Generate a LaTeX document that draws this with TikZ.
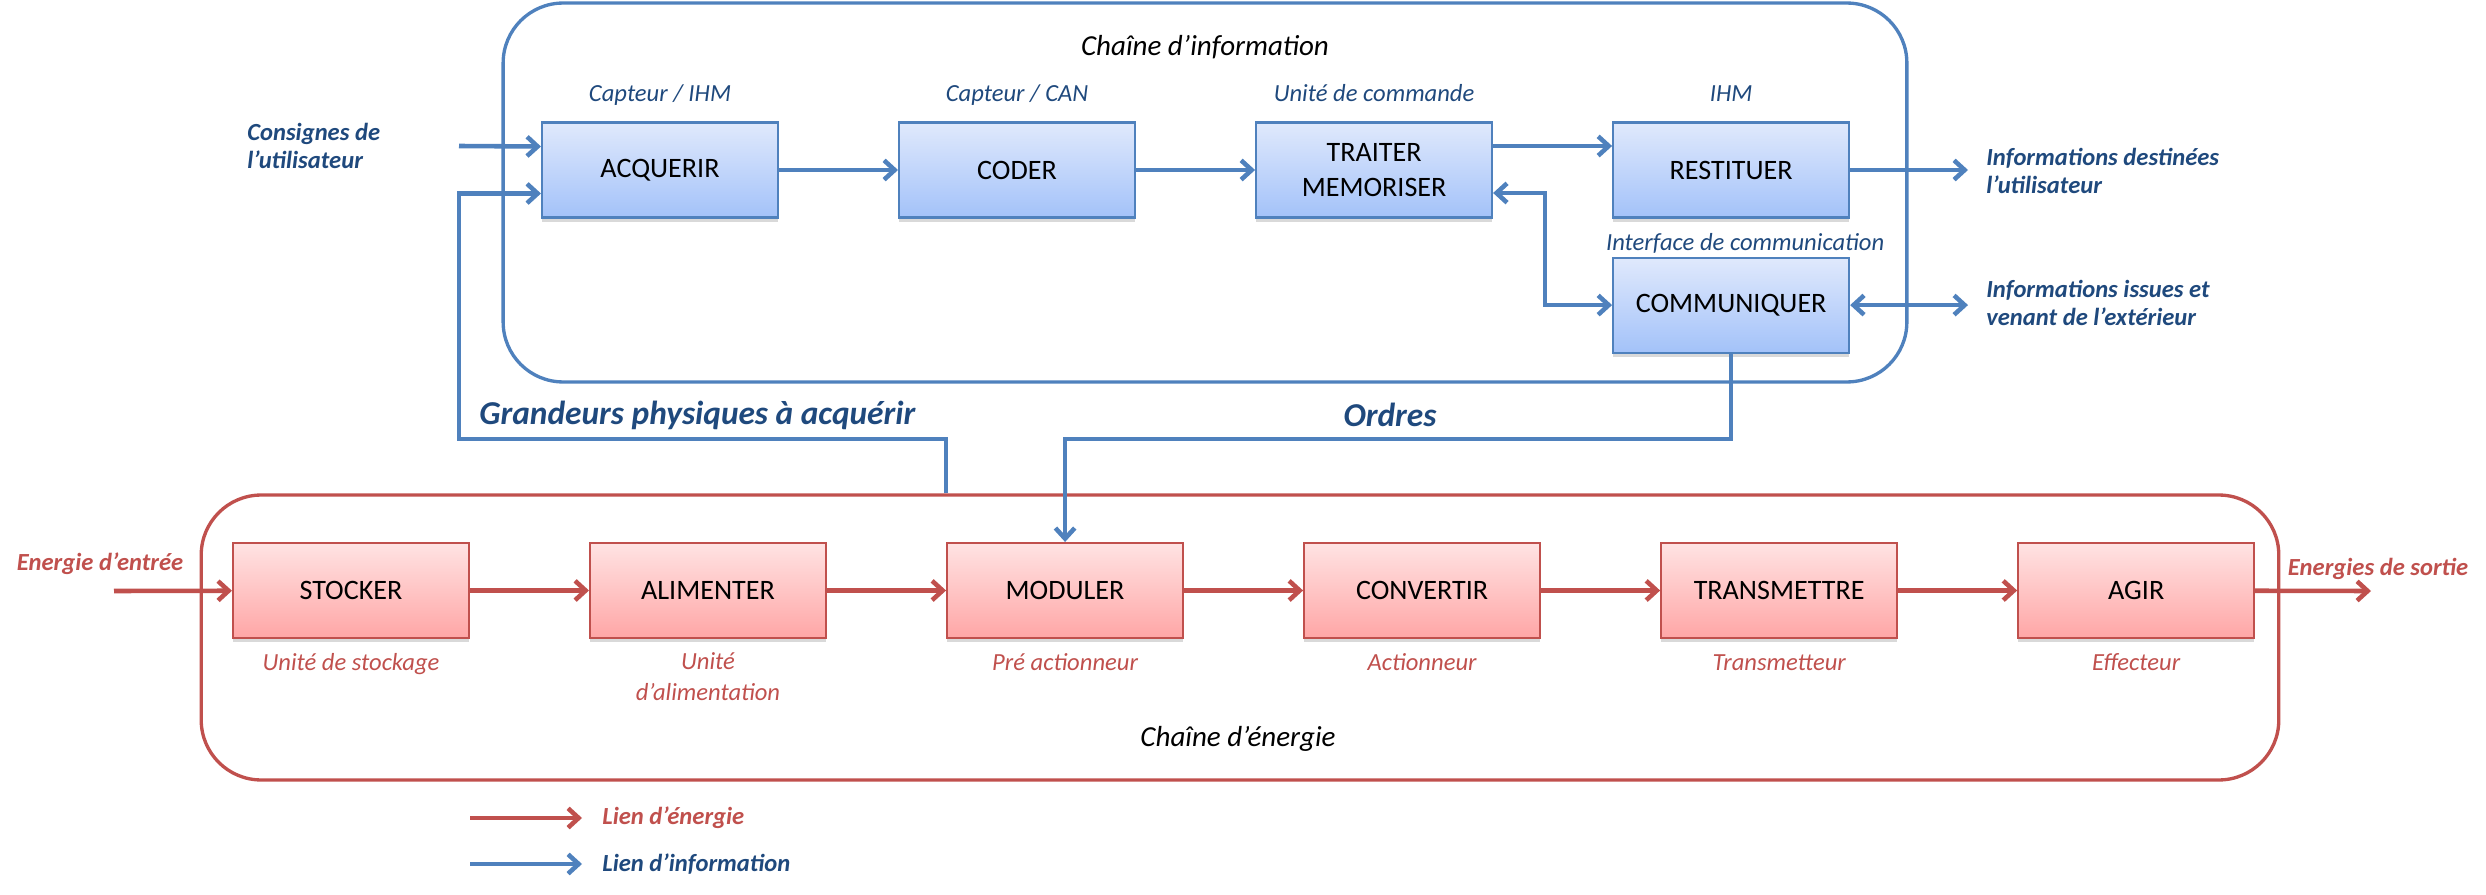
\documentclass[tikz,border=0pt]{standalone}
\usepackage{fontspec}
\setmainfont{Carlito}
\usetikzlibrary{positioning, calc, arrows.meta, shadows}

\definecolor{infoblue}{HTML}{4F81BD}
\definecolor{textblue}{HTML}{1F497D}
\definecolor{enered}{HTML}{C0504D}
\definecolor{bluetop}{HTML}{E0E9FC}
\definecolor{bluebot}{HTML}{A3C2F9}
\definecolor{redtop}{HTML}{FFE3E3}
\definecolor{redbot}{HTML}{FFA6A6}

\begin{document}
\begin{tikzpicture}[x=0.02cm, y=-0.02cm, node distance=2.38cm,
    box/.style={rectangle, line width=1.2pt, minimum width=4.72cm, minimum height=1.9cm,
        align=center, font=\fontsize{16}{20}\selectfont,
        drop shadow={shadow xshift=0pt, shadow yshift=-2.5pt, opacity=0.3}},
    infobox/.style={box, draw=infoblue, top color=bluetop, bottom color=bluebot},
    enebox/.style={box, draw=enered, top color=redtop, bottom color=redbot},
    chainbox/.style={rectangle, rounded corners=1.2cm, line width=1.9pt},
    infolab/.style={text=textblue, inner sep=0, font=\fontsize{14}{17}\selectfont\itshape},
    enelab/.style={text=enered, inner sep=0, align=center, font=\fontsize{14}{17}\selectfont\itshape},
    extlab/.style={text=textblue, inner sep=0, align=left, font=\fontsize{14}{16}\selectfont\bfseries\itshape},
    bigtxt/.style={text=textblue, inner sep=0, font=\fontsize{19}{22}\selectfont\bfseries\itshape},
    ilink/.style={draw=infoblue, line width=2.6pt, -{Straight Barb[length=6pt,width=11pt]}},
    ilinks/.style={draw=infoblue, line width=2.6pt, {Straight Barb[length=6pt,width=11pt]}-{Straight Barb[length=6pt,width=11pt]}},
    elink/.style={draw=enered, line width=2.6pt, -{Straight Barb[length=6pt,width=11pt]}}]
    \useasboundingbox (0,0) rectangle (2486,895);

    % the two chains
    \node[chainbox, draw=infoblue, minimum width=28.08cm, minimum height=7.58cm] (ich) at (1205,192.5) {};
    \node[chainbox, draw=enered, minimum width=41.56cm, minimum height=5.7cm] (ech) at (1240,637.5) {};
    \node[font=\fontsize{16.5}{20}\selectfont\itshape] (icht) at (1205,47) {Chaîne d’information};
    \node[font=\fontsize{16.5}{20}\selectfont\itshape] (echt) at (1238,739) {Chaîne d’énergie};

    % information chain
    \node[infobox] (acq) at (660,170) {ACQUERIR};
    \node[infobox, right=of acq] (cod) {CODER};
    \node[infobox, right=of cod] (trt) {TRAITER\\MEMORISER};
    \node[infobox, right=of trt] (rst) {RESTITUER};
    \node[infobox, below=0.76cm of rst] (com) {COMMUNIQUER};

    \node[infolab, anchor=base] (acql) at ([yshift=0.4cm]acq.north) {Capteur / IHM};
    \node[infolab, anchor=base] (codl) at ([yshift=0.4cm]cod.north) {Capteur / CAN};
    \node[infolab, anchor=base] (trtl) at ([yshift=0.4cm]trt.north) {Unité de commande};
    \node[infolab, anchor=base] (rstl) at ([yshift=0.4cm]rst.north) {IHM};
    \node[infolab, anchor=base] (coml) at ([xshift=0.28cm, yshift=0.12cm]com.north) {Interface de communication};

    % energy chain
    \node[enebox] (sto) at (351,590.5) {STOCKER};
    \node[enebox, right=of sto] (ali) {ALIMENTER};
    \node[enebox, right=of ali] (mod) {MODULER};
    \node[enebox, right=of mod] (cnv) {CONVERTIR};
    \node[enebox, right=of cnv] (trm) {TRANSMETTRE};
    \node[enebox, right=of trm] (agi) {AGIR};

    \node[enelab, anchor=base] (stol) at ([yshift=-0.62cm]sto.south) {Unité de stockage};
    \node[enelab, anchor=base, font=\fontsize{14}{17.5}\selectfont\itshape] (alil) at ([yshift=-1.22cm]ali.south) {Unité\\d’alimentation};
    \node[enelab, anchor=base] (modl) at ([yshift=-0.62cm]mod.south) {Pré actionneur};
    \node[enelab, anchor=base] (cnvl) at ([yshift=-0.62cm]cnv.south) {Actionneur};
    \node[enelab, anchor=base] (trml) at ([yshift=-0.62cm]trm.south) {Transmetteur};
    \node[enelab, anchor=base] (agil) at ([yshift=-0.62cm]agi.south) {Effecteur};

    % outside texts
    \node[extlab, anchor=west] (cons) at (247,146) {Consignes de\\l’utilisateur};
    \node[extlab, anchor=west] (idest) at (1986,171) {Informations destinées\\l’utilisateur};
    \node[extlab, anchor=west] (iext) at (1986,303) {Informations issues et\\venant de l’extérieur};
    \node[bigtxt, anchor=west] (gpt) at (479,415) {Grandeurs physiques à acquérir};
    \node[bigtxt] (ord) at (1390,415) {Ordres};
    \node[enelab, font=\fontsize{14}{17}\selectfont\bfseries\itshape] (einl) at (100,564) {Energie d’entrée};
    \node[enelab, font=\fontsize{14}{17}\selectfont\bfseries\itshape] (eoutl) at (2378,569) {Energies de sortie};

    % information links
    \coordinate (acqhi) at ([yshift=0.47cm]acq.west);
    \coordinate (acqlo) at ([yshift=-0.47cm]acq.west);
    \coordinate (cin) at (459,146);
    \coordinate (gp) at (459,439);
    \coordinate (trthi) at ([yshift=0.48cm]trt.east);
    \coordinate (trtlo) at ([yshift=-0.46cm]trt.east);
    \coordinate (bend) at (1545,0);
    \coordinate (iout) at (1968,0);

    \draw[ilink] (cin) -- (acqhi);
    \draw[ilink] (mod.west |- ech.north) |- (gp) |- (acqlo);
    \draw[ilink] (acq) -- (cod);
    \draw[ilink] (cod) -- (trt);
    \draw[ilink] (trthi) -- (trthi -| rst.west);
    \draw[ilinks] (trtlo) -- (trtlo -| bend) |- (com.west);
    \draw[ilink] (rst.east) -- (rst.east -| iout);
    \draw[ilinks] (com.east) -- (com.east -| iout);
    \draw[ilink] (com.south) |- (mod.north |- gp) -- (mod.north);

    % energy links
    \coordinate (ein) at (114,591);
    \coordinate (eout) at (2371,591);
    \draw[elink] (ein) -- (sto);
    \foreach \i/\j in {sto/ali, ali/mod, mod/cnv, cnv/trm, trm/agi} {
        \draw[elink] (\i) -- (\j);
    }
    \draw[elink] (agi) -- (eout);

    % legend
    \coordinate (lea) at (470,818);
    \coordinate (leb) at (582,818);
    \coordinate (lia) at (470,864);
    \coordinate (lib) at (582,864);
    \draw[elink] (lea) -- (leb);
    \draw[ilink] (lia) -- (lib);
    \node[enelab, anchor=west, font=\fontsize{14}{17}\selectfont\bfseries\itshape] (leet) at (602,818) {Lien d’énergie};
    \node[extlab, anchor=west] (leit) at (602,864) {Lien d’information};
\end{tikzpicture}
\end{document}
